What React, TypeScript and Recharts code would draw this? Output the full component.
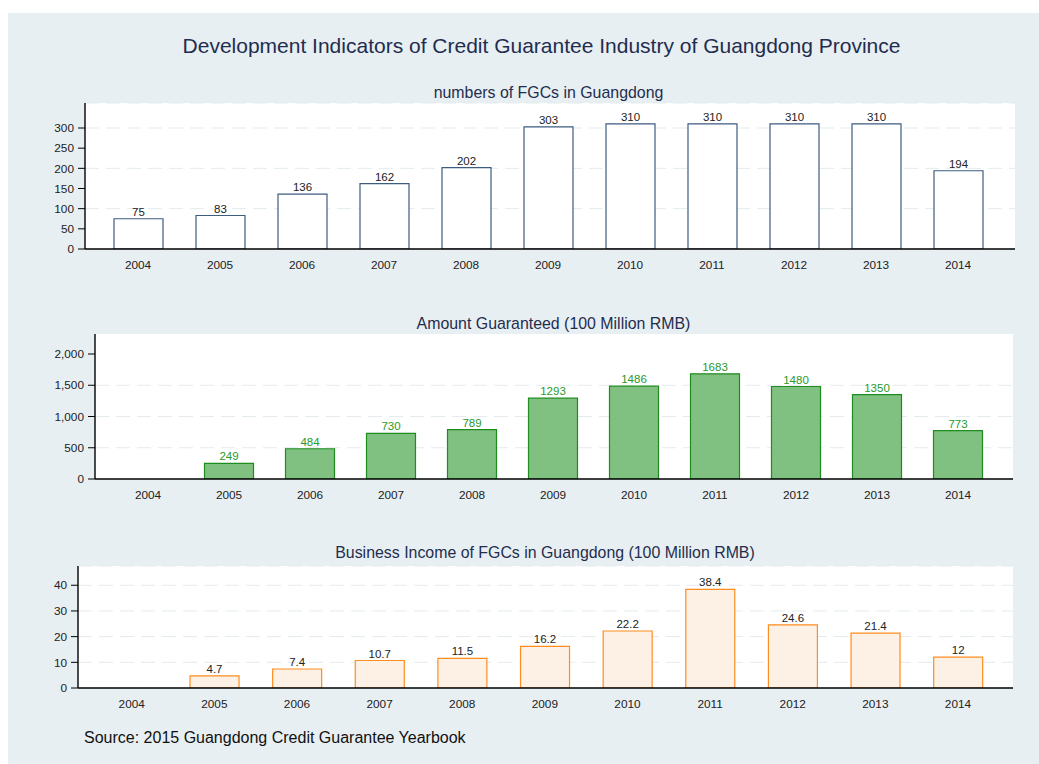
import React from 'react';
import { BarChart, Bar, XAxis, YAxis, CartesianGrid, LabelList } from 'recharts';

const years = ['2004', '2005', '2006', '2007', '2008', '2009', '2010', '2011', '2012', '2013', '2014'];
const numbersFGC = [75, 83, 136, 162, 202, 303, 310, 310, 310, 310, 194];
const amountGuaranteed = [null, 249, 484, 730, 789, 1293, 1486, 1683, 1480, 1350, 773];
const businessIncome = [null, 4.7, 7.4, 10.7, 11.5, 16.2, 22.2, 38.4, 24.6, 21.4, 12];

const ticks1 = [0, 50, 100, 150, 200, 250, 300];
const ticks2 = [0, 500, 1000, 1500, 2000];
const grid2 = [500, 1000, 1500];
const ticks3 = [0, 10, 20, 30, 40];

const title = 'Development Indicators of Credit Guarantee Industry of Guangdong Province';
const subtitle1 = 'numbers of FGCs in Guangdong';
const subtitle2 = 'Amount Guaranteed (100 Million RMB)';
const subtitle3 = 'Business Income of FGCs in Guangdong (100 Million RMB)';
const source = 'Source: 2015 Guangdong Credit Guarantee Yearbook';

const data1 = years.map((y, i) => ({ year: y, v: numbersFGC[i] }));
const data2 = years.map((y, i) => ({ year: y, v: amountGuaranteed[i] }));
const data3 = years.map((y, i) => ({ year: y, v: businessIncome[i] }));

const BG = '#e8eff2';
const TXT = '#1f2d4f';
const tickStyle = { fontSize: 11.8, fill: '#222' };

const fmtComma = (v: number) => v.toLocaleString('en-US');
const fmtLabel = (v: any) => (v === null || v === undefined ? '' : String(v));

function Sub({ text, cx, cy, size }: { text: string; cx: number; cy: number; size: number }) {
  return (
    <div
      style={{
        position: 'absolute',
        left: cx - 400,
        width: 800,
        top: cy - size / 2,
        fontSize: size,
        lineHeight: 1,
        textAlign: 'center',
        color: TXT,
        whiteSpace: 'nowrap',
      }}
    >
      {text}
    </div>
  );
}

export default function App() {
  return (
    <div
      style={{
        position: 'absolute',
        left: 8,
        top: 13,
        width: 1031,
        height: 751,
        background: BG,
        fontFamily: '"Liberation Sans", Arial, sans-serif',
        overflow: 'hidden',
      }}
    >
      <Sub text={title} cx={533.5} cy={32} size={21} />
      <Sub text={subtitle1} cx={540.5} cy={80} size={15.9} />
      <Sub text={subtitle2} cx={545.5} cy={311} size={15.9} />
      <Sub text={subtitle3} cx={537} cy={540} size={15.9} />

      <div style={{ position: 'absolute', left: 0, top: 70 }}>
        <BarChart width={1031} height={200} data={data1} margin={{ top: 20, right: 24, bottom: 4, left: 0 }}>
          <CartesianGrid vertical={false} fill="#ffffff" fillOpacity={1} stroke="#e3ebee" strokeDasharray="14 7" />
          <XAxis
            dataKey="year"
            padding={{ left: 12, right: 16 }}
            tickLine={false}
            axisLine={{ stroke: '#000', strokeWidth: 1.4 }}
            tick={tickStyle}
            tickMargin={6}
            height={30}
            interval={0}
          />
          <YAxis
            width={77}
            domain={[0, 362]}
            ticks={ticks1}
            allowDataOverflow
            axisLine={{ stroke: '#000', strokeWidth: 1.4 }}
            tickLine={{ stroke: '#000' }}
            tickSize={7}
            tickMargin={4}
            tick={tickStyle}
          />
          <Bar dataKey="v" barSize={49} fill="#ffffff" stroke="#3d5c80" strokeWidth={1.2} isAnimationActive={false}>
            <LabelList dataKey="v" position="top" offset={3} formatter={fmtLabel} style={{ fontSize: 11.5, fill: '#222' }} />
          </Bar>
        </BarChart>
      </div>

      <div style={{ position: 'absolute', left: 0, top: 300 }}>
        <BarChart width={1031} height={200} data={data2} margin={{ top: 21, right: 26, bottom: 4, left: 0 }}>
          <CartesianGrid
            vertical={false}
            horizontalValues={grid2}
            fill="#ffffff"
            fillOpacity={1}
            stroke="#e3ebee"
            strokeDasharray="14 7"
          />
          <XAxis
            dataKey="year"
            padding={{ left: 12.5, right: 14.5 }}
            tickLine={false}
            axisLine={{ stroke: '#000', strokeWidth: 1.4 }}
            tick={tickStyle}
            tickMargin={6}
            height={30}
            interval={0}
          />
          <YAxis
            width={87}
            domain={[0, 2320]}
            ticks={ticks2}
            allowDataOverflow
            tickFormatter={fmtComma}
            axisLine={{ stroke: '#000', strokeWidth: 1.4 }}
            tickLine={{ stroke: '#000' }}
            tickSize={7}
            tickMargin={4}
            tick={tickStyle}
          />
          <Bar dataKey="v" barSize={49} fill="#80c080" stroke="#1f8c1f" strokeWidth={1.2} isAnimationActive={false}>
            <LabelList dataKey="v" position="top" offset={3} formatter={fmtLabel} style={{ fontSize: 11.5, fill: '#2a9a2a' }} />
          </Bar>
        </BarChart>
      </div>

      <div style={{ position: 'absolute', left: 0, top: 530 }}>
        <BarChart width={1031} height={180} data={data3} margin={{ top: 23, right: 26, bottom: 5, left: 0 }}>
          <CartesianGrid vertical={false} fill="#ffffff" fillOpacity={1} stroke="#e3ebee" strokeDasharray="14 7" />
          <XAxis
            dataKey="year"
            padding={{ left: 12.4, right: 13.7 }}
            tickLine={false}
            axisLine={{ stroke: '#000', strokeWidth: 1.4 }}
            tick={tickStyle}
            tickMargin={6}
            height={30}
            interval={0}
          />
          <YAxis
            width={70}
            domain={[0, 47.5]}
            ticks={ticks3}
            allowDataOverflow
            axisLine={{ stroke: '#000', strokeWidth: 1.4 }}
            tickLine={{ stroke: '#000' }}
            tickSize={7}
            tickMargin={4}
            tick={tickStyle}
          />
          <Bar dataKey="v" barSize={49} fill="#fdf0e4" stroke="#ff8c1e" strokeWidth={1.2} isAnimationActive={false}>
            <LabelList dataKey="v" position="top" offset={3} formatter={fmtLabel} style={{ fontSize: 11.5, fill: '#222' }} />
          </Bar>
        </BarChart>
      </div>

      <div
        style={{
          position: 'absolute',
          left: 76,
          top: 725 - 8,
          fontSize: 16,
          lineHeight: 1,
          color: '#111',
          whiteSpace: 'nowrap',
        }}
      >
        {source}
      </div>
    </div>
  );
}
